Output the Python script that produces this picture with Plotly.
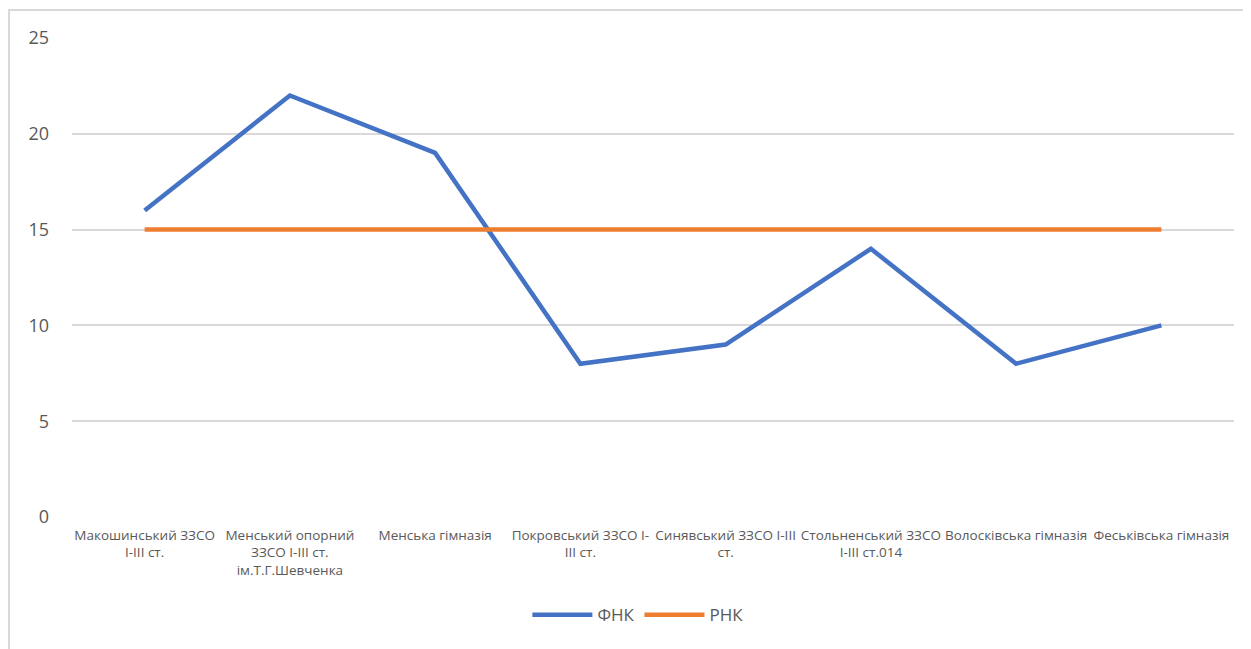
import plotly.graph_objects as go

categories = [
    "Макошинський ЗЗСО<br>І-ІІІ ст.",
    "Менський опорний<br>ЗЗСО І-ІІІ ст.<br>ім.Т.Г.Шевченка",
    "Менська гімназія",
    "Покровський ЗЗСО І-<br>ІІІ ст.",
    "Синявський ЗЗСО І-ІІІ<br>ст.",
    "Стольненський ЗЗСО<br>І-ІІІ ст.014",
    "Волосківська гімназія",
    "Феськівська гімназія",
]
fnk = [16, 22, 19, 8, 9, 14, 8, 10]
rnk = [15, 15, 15, 15, 15, 15, 15, 15]
y_ticks = [0, 5, 10, 15, 20, 25]

fig = go.Figure()
fig.add_trace(go.Scatter(x=categories, y=fnk, mode="lines", name="ФНК",
                         line=dict(color="#4472C4", width=4.5)))
fig.add_trace(go.Scatter(x=categories, y=rnk, mode="lines", name="РНК",
                         line=dict(color="#ED7D31", width=4.5)))

fig.update_layout(
    width=1251, height=649,
    margin=dict(l=64, r=25, t=30, b=140, autoexpand=False),
    paper_bgcolor="white", plot_bgcolor="white",
    font=dict(family="Open Sans", color="#595959"),
    showlegend=True,
    legend=dict(orientation="h", x=0.487, xanchor="center", y=-0.205, yanchor="middle",
                font=dict(size=17, color="#595959"), itemwidth=60),
    shapes=[dict(type="rect", xref="paper", yref="paper",
                 x0=-0.0542, x1=1.06, y0=-0.4, y1=1.0585,
                 line=dict(color="#d9d9d9", width=2), layer="below")],
)
fig.update_xaxes(showgrid=False, showline=False, ticks="", tickfont=dict(size=13.5, color="#595959"),
                 tickangle=0, ticklabelstandoff=8, range=[-0.5, 7.5], automargin=False)
fig.update_yaxes(range=[0, 25], tickvals=y_ticks, showgrid=True, gridcolor="#d9d9d9", gridwidth=1.5,
                 zeroline=False, showline=False, tickfont=dict(size=18, color="#595959"),
                 ticklabelstandoff=22, automargin=False)

fig.write_html("out.html")
